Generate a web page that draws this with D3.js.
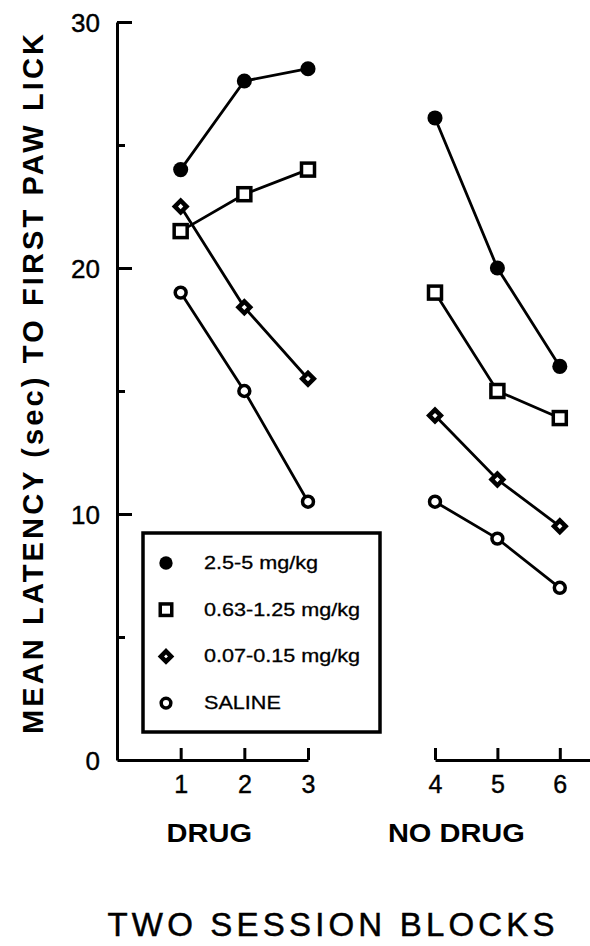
<!DOCTYPE html>
<html>
<head>
	<meta charset="utf-8">
	<title>Mean latency to first paw lick</title>
	<style>
		body { margin: 0; background: #fff; }
		svg { display: block; font-family: "Liberation Sans", Arial, Helvetica, sans-serif; }
		.axis path, .axis line { stroke: #000; stroke-width: 3px; fill: none; }
		.axis text { fill: #000; font-size: 26px; stroke: #000; stroke-width: 0.4px; }
		.series { fill: none; stroke: #000; stroke-width: 2.8px; }
		.legend-box { fill: #fff; stroke: #000; stroke-width: 3.5px; }
		.legend text { font-size: 18px; fill: #000; stroke: #000; stroke-width: 0.3px; }
		.title { font-weight: bold; fill: #000; }
	</style>
</head>
<body>
	<div id="graph"></div>
	<script src="https://cdnjs.cloudflare.com/ajax/libs/d3/7.8.5/d3.min.js"></script>
	<script>

		// session blocks: 1-3 drug, 4-6 no drug
		var drugBlocks = [1, 2, 3];
		var noDrugBlocks = [4, 5, 6];

		// mean latency (sec) per block
		var highDose = [24, 27.6, 28.1, 26.1, 20, 16];
		var midDose = [21.5, 23, 24, 19, 15, 13.9];
		var lowDose = [22.5, 18.4, 15.5, 14, 11.4, 9.5];
		var saline = [19, 15, 10.5, 10.5, 9, 7];

		var seriesNames = ["2.5-5 mg/kg", "0.63-1.25 mg/kg", "0.07-0.15 mg/kg", "SALINE"];
		var seriesMarkers = ["dot", "square", "diamond", "ring"];
		var seriesValues = [highDose, midDose, lowDose, saline];

		var yTicks = [0, 10, 20, 30];
		var yMinorTicks = [5, 15, 25];
		var groupLabels = ["DRUG", "NO DRUG"];
		var xTitle = "TWO SESSION BLOCKS";
		var yTitle = "MEAN LATENCY (sec) TO FIRST PAW LICK";

		var width = 590, height = 946;

		var svg = d3.select("#graph").append("svg")
			.attr("width", width)
			.attr("height", height);

		var y = d3.scaleLinear().domain([0, 30]).range([760, 22]);
		// left panel starts at the y axis (block 0), right panel runs off the edge
		var xDrug = d3.scaleLinear().domain([0, 3]).range([117, 308]);
		var xNoDrug = d3.scaleLinear().domain([4, 6.5]).range([435, 591]);

		function xPos(block) {
			return block <= 3 ? xDrug(block) : xNoDrug(block);
		}

		// stretch a text horizontally, the original type is wide
		function widen(sel, k) {
			sel.each(function() {
				var len = this.getComputedTextLength();
				d3.select(this).attr("textLength", len * k).attr("lengthAdjust", "spacingAndGlyphs");
			});
		}

		// y axis
		var yAxis = svg.append("g")
			.attr("class", "axis")
			.attr("transform", "translate(117,0)")
			.call(d3.axisLeft(y).tickValues(yTicks).tickSizeInner(-15).tickSizeOuter(0).tickPadding(17));
		yAxis.selectAll("text").attr("dy", "0.36em");
		yAxis.select(".tick:first-of-type line").remove();

		svg.append("g")
			.attr("class", "axis")
			.attr("transform", "translate(117,0)")
			.call(d3.axisLeft(y).tickValues(yMinorTicks).tickSize(-8).tickFormat(""))
			.select(".domain").remove();

		// x axes
		svg.append("g")
			.attr("class", "axis")
			.attr("transform", "translate(0,760)")
			.call(d3.axisBottom(xDrug).tickValues(drugBlocks).tickSizeInner(-12).tickSizeOuter(0).tickPadding(15).tickFormat(d3.format("d")))
			.selectAll("text").style("font-size", "25px");

		svg.append("g")
			.attr("class", "axis")
			.attr("transform", "translate(0,760)")
			.call(d3.axisBottom(xNoDrug).tickValues(noDrugBlocks).tickSizeInner(-12).tickSizeOuter(0).tickPadding(15).tickFormat(d3.format("d")))
			.selectAll("text").style("font-size", "25px");

		// lines, one segment per panel
		var line = d3.line()
			.x(function(d) { return xPos(d.block); })
			.y(function(d) { return y(d.value); });

		function points(values, blocks) {
			return blocks.map(function(b) { return { block: b, value: values[b - 1] }; });
		}

		seriesValues.forEach(function(values) {
			[drugBlocks, noDrugBlocks].forEach(function(blocks) {
				svg.append("path")
					.attr("class", "series")
					.attr("d", line(points(values, blocks)));
			});
		});

		function marker(g, type, size) {
			if (type === "dot") {
				g.append("circle").attr("r", size * 0.58).attr("fill", "#000");
			} else if (type === "ring") {
				g.append("circle").attr("r", size * 0.42).attr("fill", "#fff")
					.attr("stroke", "#000").attr("stroke-width", 3.5);
			} else if (type === "square") {
				g.append("rect").attr("x", -size / 2).attr("y", -size / 2)
					.attr("width", size).attr("height", size)
					.attr("fill", "#fff").attr("stroke", "#000").attr("stroke-width", 3.5);
			} else {
				g.append("path")
					.attr("d", d3.symbol().type(d3.symbolSquare).size(size * size * 0.4)())
					.attr("transform", "rotate(45)")
					.attr("fill", "#fff").attr("stroke", "#000").attr("stroke-width", 4.5);
			}
		}

		seriesValues.forEach(function(values, i) {
			drugBlocks.concat(noDrugBlocks).forEach(function(b) {
				var g = svg.append("g")
					.attr("transform", "translate(" + xPos(b) + "," + y(values[b - 1]) + ")");
				marker(g, seriesMarkers[i], 13);
			});
		});

		// legend
		var legend = svg.append("g").attr("class", "legend");
		legend.append("rect")
			.attr("class", "legend-box")
			.attr("x", 143).attr("y", 533)
			.attr("width", 237).attr("height", 199);

		seriesNames.forEach(function(name, i) {
			var row = legend.append("g")
				.attr("transform", "translate(166," + (563 + i * 46.7) + ")");
			marker(row, seriesMarkers[i], 11.5);
			row.append("text")
				.attr("x", 38)
				.attr("y", 6)
				.text(name)
				.call(widen, 1.2);
		});

		// titles
		svg.append("text")
			.attr("class", "title")
			.attr("transform", "translate(43,384) rotate(-90)")
			.attr("text-anchor", "middle")
			.style("font-size", "29px")
			.attr("textLength", 700)
			.attr("lengthAdjust", "spacing")
			.text(yTitle);

		svg.selectAll(".group")
			.data(groupLabels)
			.enter()
			.append("text")
			.attr("class", "title group")
			.attr("x", function(d, i) { return i === 0 ? xDrug(2) - 35 : xNoDrug(5) - 41; })
			.attr("y", 842)
			.attr("text-anchor", "middle")
			.style("font-size", "25px")
			.text(function(d) { return d; })
			.call(widen, 1.16);

		svg.append("text")
			.attr("x", 331)
			.attr("y", 936)
			.attr("text-anchor", "middle")
			.style("font-size", "33px")
			.style("stroke", "#000")
			.style("stroke-width", "0.5px")
			.attr("textLength", 447)
			.attr("lengthAdjust", "spacing")
			.text(xTitle);

	</script>
</body>
</html>
